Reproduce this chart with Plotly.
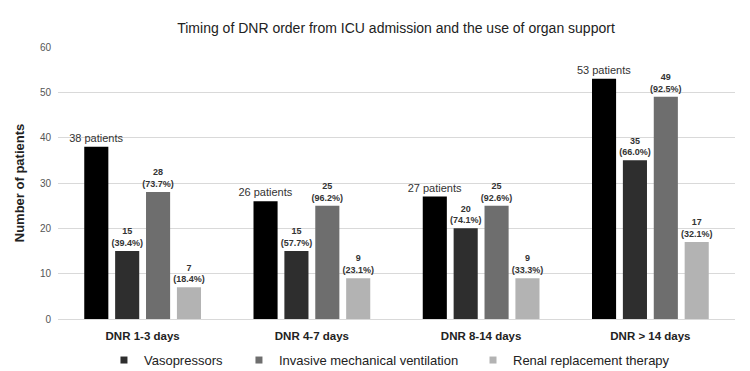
import plotly.graph_objects as go

categories = ["DNR 1-3 days", "DNR 4-7 days", "DNR 8-14 days", "DNR > 14 days"]
patients = [38, 26, 27, 53]
vasopressors = [15, 15, 20, 35]
vaso_pct = ["39.4%", "57.7%", "74.1%", "66.0%"]
ventilation = [28, 25, 25, 49]
vent_pct = ["73.7%", "96.2%", "92.6%", "92.5%"]
renal = [7, 9, 9, 17]
renal_pct = ["18.4%", "23.1%", "33.3%", "32.1%"]

FONT = "Liberation Sans, Arial, sans-serif"

fig = go.Figure()
fig.add_trace(go.Bar(
    x=categories, y=patients, name="Patients", showlegend=False,
    marker=dict(color="#000000", line=dict(width=0)),
    text=[f"{v} patients" for v in patients], textposition="outside",
    constraintext="none",
    textfont=dict(size=11, color="#333333", family=FONT), cliponaxis=False,
))
series = [
    ("Vasopressors", vasopressors, vaso_pct, "#2e2e2e", "legend"),
    ("Invasive mechanical ventilation", ventilation, vent_pct, "#6e6e6e", "legend2"),
    ("Renal replacement therapy", renal, renal_pct, "#b3b3b3", "legend3"),
]
for name, vals, pcts, col, lg in series:
    fig.add_trace(go.Bar(
        x=categories, y=vals, name=name, showlegend=False,
        marker=dict(color=col, line=dict(width=0)),
        text=[f"<b>{v}<br>({p})</b>" for v, p in zip(vals, pcts)],
        textposition="outside", constraintext="none",
        textfont=dict(size=9, color="#333333", family=FONT), cliponaxis=False,
    ))
    # legend entry with a small square marker
    fig.add_trace(go.Scatter(
        x=[None], y=[None], mode="markers", name=name, legend=lg,
        marker=dict(symbol="square", size=7, color=col),
    ))

leg_common = dict(orientation="h", yanchor="middle", y=-0.151, xanchor="left",
                  font=dict(size=13, color="#222222", family=FONT),
                  bgcolor="rgba(0,0,0,0)", itemwidth=30)

fig.update_layout(
    width=750, height=371,
    margin=dict(l=58, r=15, t=47, b=52, autoexpand=False),
    paper_bgcolor="white", plot_bgcolor="white",
    barmode="group", bargap=0.27, bargroupgap=0.22,
    font=dict(family=FONT, color="#333333"),
    title=dict(text="Timing of DNR order from ICU admission and the use of organ support",
               x=0.528, xanchor="center", y=0.925, yanchor="middle",
               font=dict(size=14, color="#222222")),
    xaxis=dict(showgrid=False, showline=False, ticks="", ticklabelstandoff=8,
               tickfont=dict(size=11.5, color="#222222", family=FONT),
               tickprefix="<b>", ticksuffix="</b>"),
    yaxis=dict(range=[0, 60], dtick=10, showgrid=True, gridcolor="#d9d9d9", gridwidth=1,
               zeroline=True, zerolinecolor="#d9d9d9", zerolinewidth=1,
               ticks="", ticklabelstandoff=6,
               tickfont=dict(size=10, color="#555555"),
               title=dict(text="<b>Number of patients</b>", font=dict(size=13, color="#222222"), standoff=12)),
    legend=dict(x=0.0679, **leg_common),
    legend2=dict(x=0.2673, **leg_common),
    legend3=dict(x=0.6130, **leg_common),
)

fig.write_html("out.html")
